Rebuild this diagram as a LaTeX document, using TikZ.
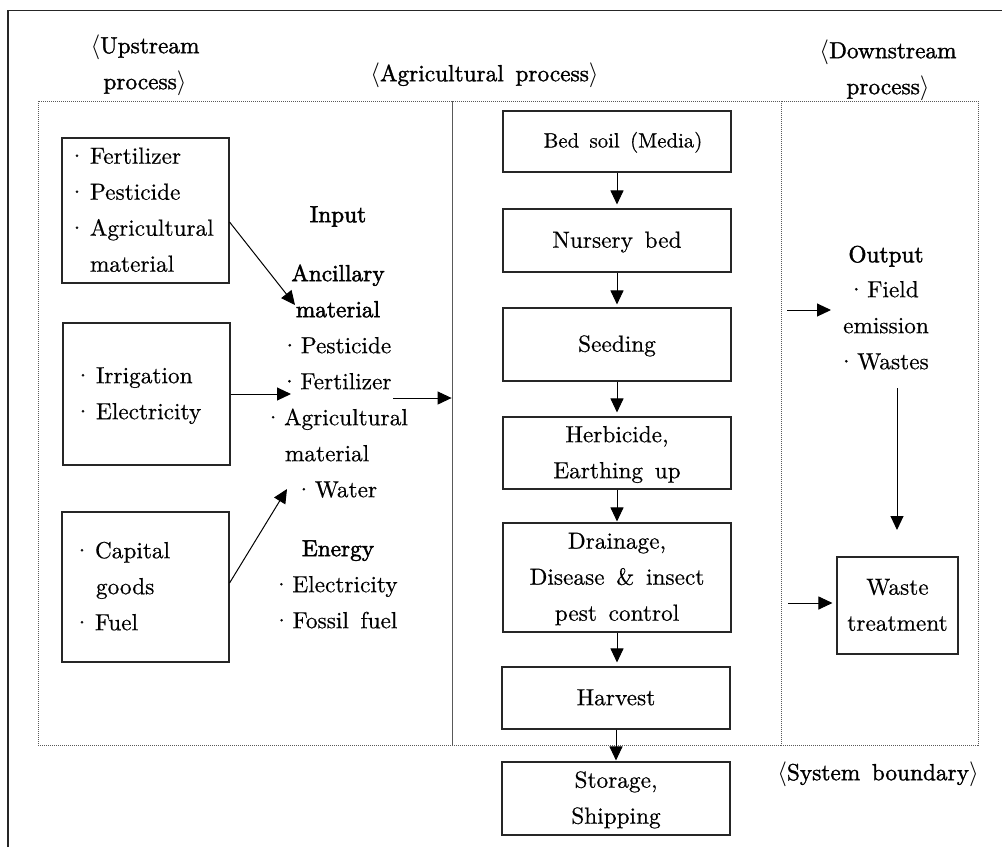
\documentclass[tikz,border=0pt]{standalone}
\usepackage{fontspec}
\setmainfont{lmroman10-regular.otf}[WordSpace=1.5,FakeBold=0.5]
\newfontfamily\fbold{lmroman10-regular.otf}[FakeBold=2,WordSpace=1.5]
\newfontfamily\fsemi{lmroman10-regular.otf}[FakeBold=1.4,WordSpace=1.5]
\usetikzlibrary{arrows.meta,calc}
\newcommand\bu{\leavevmode\makebox[0pt]{·}\kern13pt}
\newcommand\bc{\leavevmode\makebox[6pt]{·}\kern8pt}
\newcommand\ind[1]{\leavevmode\kern#1}
\newcommand\hdl{$\langle$}
\newcommand\hdr{$\rangle$}
\newcommand\bigtxt{\fontsize{23.3pt}{36pt}\selectfont}
\begin{document}
\begin{tikzpicture}[x=1pt,y=-1pt,
  txt/.style={inner sep=0pt, font=\bigtxt, align=center, anchor=north},
  btxt/.style={inner sep=0pt, font={\fontsize{23.3pt}{36pt}\fbold}, align=center, anchor=north},
  htxt/.style={inner sep=0pt, font={\fontsize{23.3pt}{36pt}\fsemi}, align=center, anchor=north},
  procbox/.style={draw=black!85, line width=1.1pt, inner sep=0pt, font=\bigtxt, align=center, minimum width=228pt},
  upbox/.style={draw=black!85, line width=1.1pt, inner ysep=0pt, font=\bigtxt, align=left, minimum width=167pt},
  bnd/.style={draw=black!65, line width=0.8pt, dash pattern=on 1pt off 1pt, inner sep=0pt},
  arr/.style={-{Triangle[length=14pt,width=13pt]}, line width=1pt, black}
]
\useasboundingbox (0,0) rectangle (1002,847);
% outer frame
\draw[line width=1.3pt, black!85] (8,847) -- (8,10.5) -- (1002,10.5);

% system boundaries
\node[bnd, minimum width=414pt, minimum height=644pt] (up) at (245,423) {};
\node[bnd, minimum width=329pt, minimum height=644pt] (agri) at (616.5,423) {};
\node[bnd, minimum width=197pt, minimum height=644pt] (down) at (879.5,423) {};

% headers
\node[htxt] (hup) at (145,27.8) {\strut\hdl Upstream\\process\hdr};
\node[htxt] (hagri) at (484.5,55.8) {\strut\hdl Agricultural process\hdr};
\node[htxt] (hdown) at (888,32.8) {\strut\hdl Downstream\\process\hdr};
\node[htxt] (hsys) at (878,754.8) {\strut\hdl System boundary\hdr};

% upstream boxes
\node[upbox, inner xsep=15pt, text width=137pt, minimum height=145pt] (b1) at (145.5,210.5)
  {\strut\bu Fertilizer\\\bu Pesticide\\\bu Agricultural\\\ind{13pt}material\strut};
\node[upbox, inner xsep=20pt, text width=127pt, minimum height=142pt] (b2) at (146.5,394)
  {\strut\bu Irrigation\\\bu Electricity\strut};
\node[upbox, inner xsep=20pt, text width=127pt, minimum height=150pt] (b3) at (145.5,587)
  {\strut\bu Capital\\\ind{14pt}goods\\\bu Fuel\strut};

% input column
\node[btxt] (inp) at (338,196.8) {\strut Input};
\node[btxt] (anc) at (338,255.8) {\strut Ancillary\\material};
\node[txt] (alist) at (339,327.8) {\strut\bc Pesticide\\\bc Fertilizer\\\bc Agricultural\\\makebox[108pt][l]{material}\\\bc Water};
\node[btxt] (en) at (338,530.8) {\strut Energy};
\node[txt] (elist) at (338,566.8) {\strut\bc Electricity\\\bc Fossil fuel};

% process boxes
\node[procbox, minimum height=61pt, font=\fontsize{20.8pt}{30pt}\selectfont] (bed) at (617,141.5) {\strut\kern12pt Bed soil (Media)};
\node[procbox, minimum height=63pt] (nur) at (617,240.5) {\strut Nursery bed\strut};
\node[procbox, minimum height=73pt] (seed) at (617,344.5) {\strut Seeding\strut};
\node[procbox, minimum height=72pt] (herb) at (617,453) {\strut Herbicide,\\Earthing up\strut};
\node[procbox, minimum height=109pt] (drain) at (617,577.5) {\strut Drainage,\\Disease \& insect\\pest control\strut};
\node[procbox, minimum height=62pt] (harv) at (616,698) {\strut Harvest\strut};
\node[procbox, minimum height=73pt] (stor) at (616,798.5) {\strut Storage,\\Shipping\strut};

% downstream
\node[btxt] (outp) at (886,236.8) {\strut Output};
\node[txt] (olist) at (886,271.8) {\strut\bc Field\\emission\\\bc Wastes};
\node[draw=black!85, line width=1.1pt, inner sep=0pt, font=\bigtxt, align=center,
  minimum width=121pt, minimum height=97pt] (waste) at (897.5,605.5) {\strut Waste\\treatment\strut};

% upstream arrows
\coordinate (t1) at (295,305);
\coordinate (t2) at (291,394);
\coordinate (t3) at (287,489);
\draw[arr] ([yshift=-11.5pt]b1.east) -- (t1);
\draw[arr] (b2.east) -- (t2);
\draw[arr] ([yshift=4pt]b3.east) -- (t3);
\coordinate (s4) at (393,398);
\draw[arr] (s4) -- (s4 -| agri.west);

% process arrows
\draw[arr, shorten >=4pt] (bed.south) -- (bed.south |- nur.north);
\draw[arr, shorten >=3pt] (nur.south) -- (nur.south |- seed.north);
\draw[arr, shorten >=4pt] (seed.south) -- (seed.south |- herb.north);
\draw[arr, shorten >=1pt] (herb.south) -- (herb.south |- drain.north);
\draw[arr, shorten >=4pt] (drain.south) -- (drain.south |- harv.north);
\draw[arr, shorten >=1pt] (harv.south) -- (harv.south |- stor.north);

% downstream arrows
\coordinate (o1) at (787,310);
\coordinate (o2) at (831,310);
\draw[arr] (o1) -- (o2);
\coordinate (d1) at (897,388);
\coordinate (d2) at (897,530);
\draw[arr] (d1) -- (d2);
\coordinate (w1) at (788,603);
\draw[arr, shorten >=4pt] (w1) -- (w1 -| waste.west);
\end{tikzpicture}
\end{document}
